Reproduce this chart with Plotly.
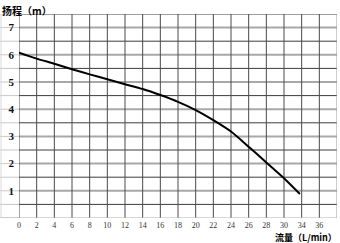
import plotly.graph_objects as go

# data
flow = [0, 2, 4, 6, 8, 10, 12, 14, 16, 18, 20, 22, 24, 26, 28, 30, 31.8]
head = [6.08, 5.86, 5.67, 5.47, 5.28, 5.1, 4.92, 4.74, 4.52, 4.27, 3.97, 3.6, 3.18, 2.62, 2.04, 1.46, 0.88]

x_tickvals = [0, 2, 4, 6, 8, 10, 12, 14, 16, 18, 20, 22, 24, 26, 28, 30, 32, 34]
x_ticktext = ["0", "2", "4", "6", "8", "10", "12", "14", "16", "18", "20", "22",
              "24", "26", "28", "30", "34", "36"]
y_tickvals = [1, 2, 3, 4, 5, 6, 7]
half_lines = [0.5, 1.5, 2.5, 3.5, 4.5, 5.5, 6.5, 7.5]
int_lines = [1, 2, 3, 4, 5, 6, 7]

W, H = 340, 243
L, R, T, B = 19, 3, 14, 25
pw = W - L - R
ph = H - T - B
left_ext = -L / pw

fig = go.Figure()
fig.add_trace(go.Scatter(x=flow, y=head, mode="lines",
                         line=dict(color="#000000", width=2, shape="spline", smoothing=0.6),
                         hoverinfo="skip", showlegend=False))

shapes = []
for v in half_lines + int_lines + [0]:
    shapes.append(dict(type="line", xref="paper", yref="y", x0=left_ext, x1=0, y0=v, y1=v,
                       line=dict(color="#c8c8c8", width=1), layer="below"))
for v in int_lines:
    shapes.append(dict(type="line", xref="paper", yref="y", x0=0, x1=1, y0=v, y1=v,
                       line=dict(color="#a8a8a8", width=2), layer="below"))
for v in half_lines:
    shapes.append(dict(type="line", xref="paper", yref="y", x0=0, x1=1, y0=v, y1=v,
                       line=dict(color="#3c3c3c", width=1), layer="below"))
for v in x_tickvals + [36]:
    shapes.append(dict(type="line", xref="x", yref="paper", x0=v, x1=v, y0=0, y1=1,
                       line=dict(color="#4a4a4a" if v != 36 else "#9a9a9a", width=1), layer="below"))
shapes.append(dict(type="line", xref="paper", yref="y", x0=left_ext, x1=1, y0=0, y1=0,
                   line=dict(color="#b0b0b0", width=1), layer="below"))
shapes.append(dict(type="line", xref="paper", yref="y", x0=left_ext + 1/pw, x1=left_ext + 1/pw,
                   y0=0, y1=7.5, line=dict(color="#d8d8d8", width=1), layer="below"))

fig.update_layout(
    width=W, height=H,
    margin=dict(l=L, r=R, t=T, b=B, pad=0),
    paper_bgcolor="white", plot_bgcolor="white",
    shapes=shapes,
    xaxis=dict(range=[0, 36], tickvals=x_tickvals, ticktext=x_ticktext,
               showgrid=False, zeroline=False, showline=False, ticks="",
               tickfont=dict(family="Liberation Serif", size=8, color="#333333"),
               ticklabelstandoff=1, fixedrange=True),
    yaxis=dict(range=[0, 7.5], tickvals=y_tickvals, showgrid=False, zeroline=False,
               showline=False, ticks="",
               tickfont=dict(family="Liberation Serif", size=11, color="#111111", weight="bold"),
               ticklabelstandoff=4, fixedrange=True),
    annotations=[
        dict(text="<b>扬程（m）</b>", xref="paper", yref="paper", x=left_ext, y=1 + (T - 0.5) / ph,
             xanchor="left", yanchor="top", showarrow=False,
             font=dict(family="Noto Sans CJK SC", size=10, color="#000000")),
        dict(text="<b>流量（L/min）</b>", xref="paper", yref="paper", x=1 + (R - 2) / pw,
             y=-(237 - (T + ph)) / ph,
             xanchor="right", yanchor="middle", showarrow=False, borderpad=0,
             font=dict(family="Noto Sans CJK SC", size=9, color="#000000")),
    ],
)

fig.write_html("out.html")
